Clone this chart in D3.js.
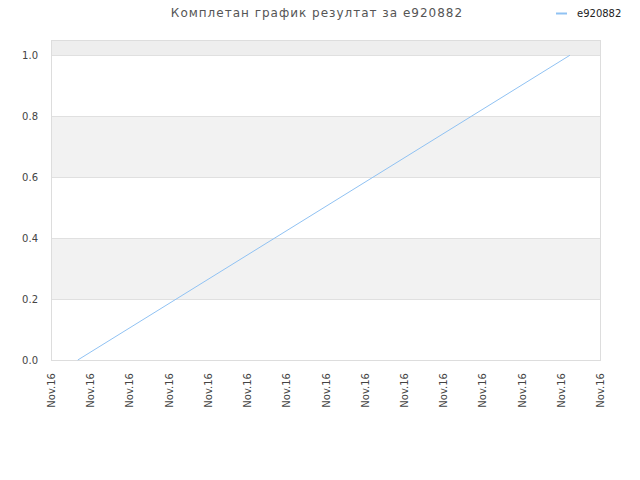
<!DOCTYPE html>
<meta charset="utf-8">
<head>
    <style>
     body { margin: 0; background: #fff; }
     svg text { font-family: "DejaVu Sans", sans-serif; }
    </style>
</head>
<body>
    <div id="chart"></div>
</body>
<script src="https://d3js.org/d3.v7.min.js"></script>
<script>
 var title = "Комплетан график резултат за e920882";
 var seriesName = "e920882";
 var pointTimes = ["2016-11-16T09:41", "2016-11-16T22:14"];
 var pointValues = [0, 1];
 var yTicks = [0, 0.2, 0.4, 0.6, 0.8, 1.0];
 var xDomain = ["2016-11-16T09:00", "2016-11-16T23:00"];
 var xTickLabel = "Nov.16";

 var width = 640, height = 480;
 var margin = {left: 51, right: 40, top: 40, bottom: 120};
 var parse = d3.timeParse("%Y-%m-%dT%H:%M");

 var x = d3.scaleTime()
           .domain(xDomain.map(parse))
           .range([margin.left, width - margin.right]);
 var y = d3.scaleLinear()
           .domain([0, 1.05])
           .range([height - margin.bottom, margin.top]);

 var svg = d3.select("#chart").append("svg")
             .attr("width", width)
             .attr("height", height);

 // alternating bands
 var bands = [[0.2, 0.4, "#f2f2f2"], [0.6, 0.8, "#f2f2f2"], [1.0, 1.05, "#eeeeee"]];
 svg.append("g").selectAll("rect")
    .data(bands)
    .join("rect")
    .attr("x", margin.left)
    .attr("width", width - margin.right - margin.left)
    .attr("y", d => y(d[1]))
    .attr("height", d => y(d[0]) - y(d[1]))
    .attr("fill", d => d[2]);

 // gridlines
 svg.append("g").selectAll("line")
    .data(yTicks)
    .join("line")
    .attr("x1", margin.left)
    .attr("x2", width - margin.right)
    .attr("y1", d => Math.round(y(d)) + 0.5)
    .attr("y2", d => Math.round(y(d)) + 0.5)
    .attr("stroke", "#e0e0e0");

 // frame
 svg.append("rect")
    .attr("x", margin.left + 0.5)
    .attr("y", margin.top + 0.5)
    .attr("width", width - margin.right - margin.left)
    .attr("height", height - margin.bottom - margin.top)
    .attr("fill", "none")
    .attr("stroke", "#dddddd");

 // y axis
 var yAxis = svg.append("g")
                .attr("transform", `translate(${margin.left - 13},0)`)
                .call(d3.axisLeft(y).tickValues(yTicks).tickFormat(d3.format(".1f")).tickSize(0));
 yAxis.select(".domain").remove();
 yAxis.selectAll("text")
      .attr("fill", "#444")
      .style("font-size", "10px")
      .attr("x", 0)
      .attr("dy", "0.35em");

 // x axis
 var xAxis = svg.append("g")
                .attr("transform", `translate(0,${height - margin.bottom})`)
                .call(d3.axisBottom(x).ticks(d3.timeHour.every(1)).tickFormat(() => xTickLabel).tickSize(0));
 xAxis.select(".domain").remove();
 xAxis.selectAll("text")
      .attr("fill", "#444")
      .style("font-size", "10px")
      .attr("text-anchor", "end")
      .attr("transform", "rotate(-90)")
      .attr("x", -13)
      .attr("y", 0)
      .attr("dy", "0.35em");

 // series
 var pts = pointTimes.map((t, i) => ({t: parse(t), v: pointValues[i]}));
 svg.append("path")
    .datum(pts)
    .attr("fill", "none")
    .attr("stroke", "#90c2f3")
    .attr("stroke-width", 1)
    .attr("d", d3.line().x(d => x(d.t)).y(d => y(d.v)));

 // title
 svg.append("text")
    .attr("x", 317)
    .attr("y", 17)
    .attr("text-anchor", "middle")
    .attr("fill", "#555")
    .style("font-size", "12px")
    .style("letter-spacing", "1px")
    .text(title);

 // legend
 svg.append("line")
    .attr("x1", 556).attr("x2", 567)
    .attr("y1", 13.5).attr("y2", 13.5)
    .attr("stroke", "#90c2f3")
    .attr("stroke-width", 2);
 svg.append("text")
    .attr("x", 577)
    .attr("y", 17)
    .attr("fill", "#222")
    .style("font-size", "10px")
    .text(seriesName);
</script>
